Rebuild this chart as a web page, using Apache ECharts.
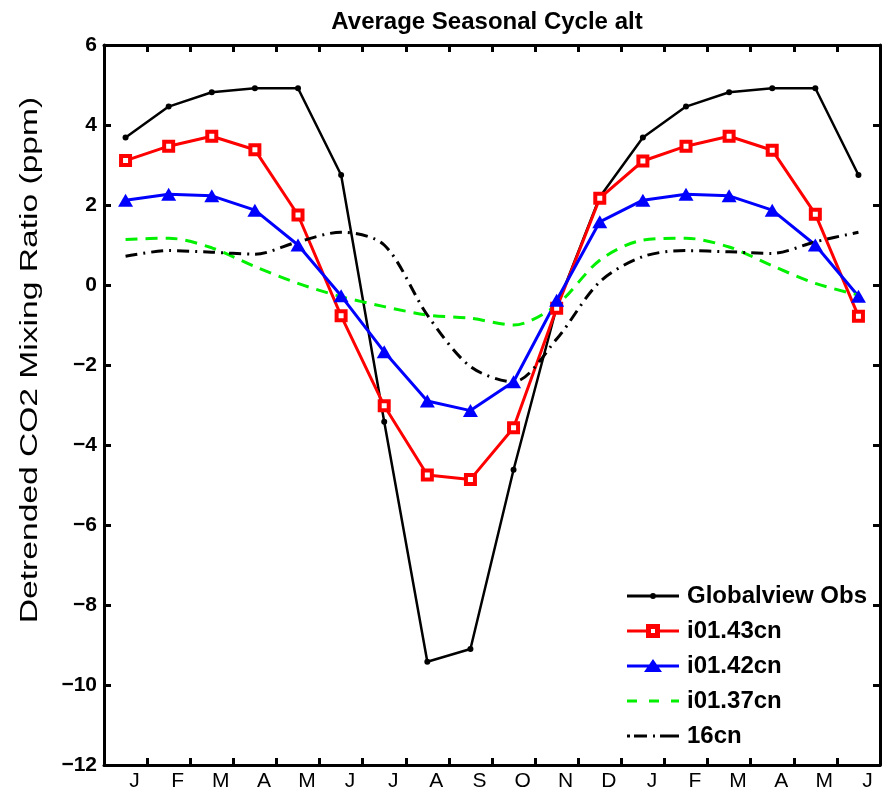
<!DOCTYPE html>
<html>
<head>
<meta charset="utf-8">
<script src="https://cdn.jsdelivr.net/npm/echarts@6/dist/echarts.min.js"></script>
<style>
  html, body { margin: 0; padding: 0; background: #fff; }
  #chart { width: 888px; height: 793px; }
</style>
</head>
<body>
<div id="chart"></div>
<script>
// months shown on the x axis (one and a half years)
const months = ['J', 'F', 'M', 'A', 'M', 'J', 'J', 'A', 'S', 'O', 'N', 'D', 'J', 'F', 'M', 'A', 'M', 'J']
const yTicks = [-12, 6, 2] // min, max, step

// detrended CO2 (ppm)
const globalviewObs = [3.69, 4.46, 4.82, 4.92, 4.92, 2.75, -3.42, -9.42, -9.10, -4.62, -0.55, 2.20, 3.69, 4.46, 4.82, 4.92, 4.92, 2.75]
const i0143cn = [3.11, 3.47, 3.72, 3.38, 1.75, -0.77, -3.02, -4.75, -4.86, -3.57, -0.58, 2.17, 3.10, 3.47, 3.72, 3.37, 1.77, -0.78]
const i0142cn = [2.12, 2.27, 2.23, 1.87, 1.00, -0.27, -1.67, -2.90, -3.14, -2.42, -0.38, 1.58, 2.12, 2.27, 2.23, 1.87, 1.00, -0.28]
const i0137cn = [1.14, 1.17, 0.93, 0.46, 0.04, -0.29, -0.54, -0.75, -0.83, -1.00, -0.50, 0.62, 1.12, 1.17, 0.95, 0.48, 0.04, -0.25]
const cn16 = [0.72, 0.86, 0.82, 0.77, 1.08, 1.32, 1.00, -0.75, -2.04, -2.42, -1.35, 0.08, 0.71, 0.86, 0.83, 0.79, 1.08, 1.32]

const font = 'Liberation Sans'
const red = '#ff0000'
const blue = '#0000ff'
const green = '#00f000'
const axisLineStyle = { color: '#000', width: 3 }
const tickStyle = { show: true, inside: true, length: 7, lineStyle: { color: '#000', width: 3 } }

// legend icons: line sample + marker, drawn in a 52x14 box
const anchors = 'M0 0L0 0M52 14L52 14'
const icons = {
    obs: 'path://' + anchors + 'M0 5.5H52V8.5H0ZM29 7A3 3 0 1 1 23 7A3 3 0 1 1 29 7Z',
    sq: 'path://M0 5.5H19V8.5H0ZM33 5.5H52V8.5H33ZM19 0H33V14H19ZM24 5V9H28V5Z',
    tri: 'path://' + anchors + 'M0 5.5H52V8.5H0ZM17 13L26 0L35 13Z',
    dash: 'path://' + anchors + 'M0 5.5H10V8.5H0ZM22 5.5H32V8.5H22ZM44 5.5H52V8.5H44Z',
    dashdot: 'path://' + anchors + 'M0 5.5H3V8.5H0ZM7 5.5H20V8.5H7ZM26 5.5H28V8.5H26ZM33 5.5H52V8.5H33Z'
}

const dom = echarts.init(document.getElementById('chart'))

let option = {
    animation: false,
    backgroundColor: '#fff',
    title: {
        text: 'Average Seasonal Cycle alt',
        left: 482,
        top: 5,
        textAlign: 'center',
        textStyle: { fontFamily: font, fontWeight: 'bold', fontSize: 24, color: '#000' }
    },
    grid: { left: 104, right: 8, top: 45, bottom: 28 },
    legend: {
        orient: 'vertical',
        left: 622,
        top: 579,
        itemWidth: 52,
        itemHeight: 14,
        itemGap: 11,
        symbolKeepAspect: true,
        data: [
            { name: 'Globalview Obs', icon: icons.obs, itemStyle: { color: '#000', borderWidth: 0 } },
            { name: 'i01.43cn', icon: icons.sq, itemStyle: { color: red, borderWidth: 0 } },
            { name: 'i01.42cn', icon: icons.tri, itemStyle: { color: blue, borderWidth: 0 } },
            { name: 'i01.37cn', icon: icons.dash, itemStyle: { color: green, borderWidth: 0 } },
            { name: '16cn', icon: icons.dashdot, itemStyle: { color: '#000', borderWidth: 0 } }
        ],
        textStyle: { fontFamily: font, fontWeight: 'bold', fontSize: 24, lineHeight: 24, color: '#000', padding: [0, 0, 0, 3] }
    },
    xAxis: [
        {
            type: 'category',
            data: months,
            boundaryGap: true,
            position: 'bottom',
            axisLine: { onZero: false, lineStyle: axisLineStyle },
            axisTick: tickStyle,
            axisLabel: { color: '#000', fontFamily: font, fontSize: 21, margin: 6, padding: [0, 0, 0, 18] },
            splitLine: { show: false }
        },
        {
            type: 'category',
            data: months,
            boundaryGap: true,
            position: 'top',
            axisLine: { onZero: false, lineStyle: axisLineStyle },
            axisTick: tickStyle,
            axisLabel: { show: false },
            splitLine: { show: false }
        }
    ],
    yAxis: [
        {
            type: 'value',
            min: yTicks[0],
            max: yTicks[1],
            interval: yTicks[2],
            position: 'left',
            axisLine: { show: true, onZero: false, lineStyle: axisLineStyle },
            axisTick: tickStyle,
            axisLabel: {
                color: '#000', fontFamily: font, fontWeight: 'bold', fontSize: 21, margin: 7,
                formatter: v => String(v).replace('-', '\u2212')
            },
            splitLine: { show: false }
        },
        {
            type: 'value',
            min: yTicks[0],
            max: yTicks[1],
            interval: yTicks[2],
            position: 'right',
            axisLine: { show: true, onZero: false, lineStyle: axisLineStyle },
            axisTick: tickStyle,
            axisLabel: { show: false },
            splitLine: { show: false }
        }
    ],
    graphic: [
        {
            // y axis title, stretched like the original
            type: 'text',
            x: 31,
            y: 360,
            rotation: Math.PI / 2,
            scaleX: 1.46,
            style: {
                text: 'Detrended CO2 Mixing Ratio (ppm)',
                font: 'normal 23px "Liberation Sans"',
                fill: '#000',
                align: 'center',
                verticalAlign: 'middle'
            }
        }
    ],
    series: [
        {
            name: 'Globalview Obs',
            type: 'line',
            data: globalviewObs,
            symbol: 'circle',
            symbolSize: 6,
            lineStyle: { color: '#000', width: 2.5 },
            itemStyle: { color: '#000' }
        },
        {
            name: 'i01.43cn',
            type: 'line',
            data: i0143cn,
            symbol: 'rect',
            symbolSize: 9,
            lineStyle: { color: red, width: 3 },
            itemStyle: { color: '#fff', borderColor: red, borderWidth: 4 }
        },
        {
            name: 'i01.42cn',
            type: 'line',
            data: i0142cn,
            symbol: 'triangle',
            symbolSize: [15, 13],
            lineStyle: { color: blue, width: 3 },
            itemStyle: { color: blue }
        },
        {
            name: 'i01.37cn',
            type: 'line',
            data: i0137cn,
            symbol: 'none',
            smooth: 0.3,
            lineStyle: { color: green, width: 3, type: [12, 8] },
            itemStyle: { color: green }
        },
        {
            name: '16cn',
            type: 'line',
            data: cn16,
            symbol: 'none',
            smooth: 0.3,
            lineStyle: { color: '#000', width: 3, type: [12, 6, 2, 6] },
            itemStyle: { color: '#000' }
        }
    ]
}
dom.setOption(option)
</script>
</body>
</html>
